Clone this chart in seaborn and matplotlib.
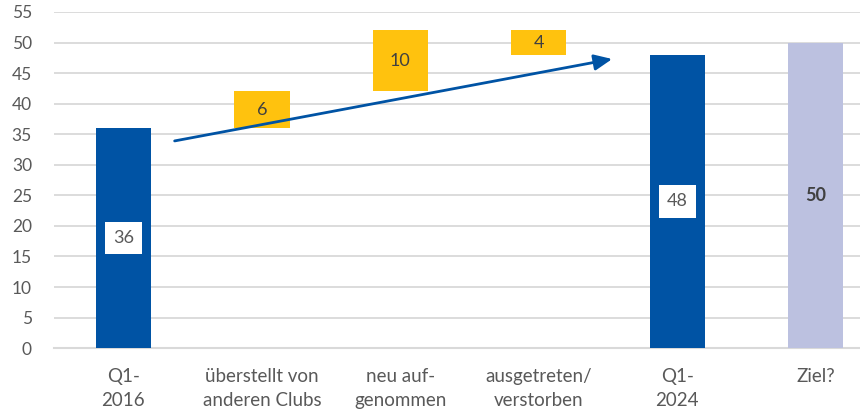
import matplotlib
matplotlib.use("Agg")
import matplotlib.pyplot as plt
import numpy as np
import pandas as pd
import seaborn as sns

# categories and values of the waterfall
categories = ["Q1-\n2016", "überstellt von\nanderen Clubs", "neu auf-\ngenommen",
              "ausgetreten/\nverstorben", "Q1-\n2024", "Ziel?"]
bar_bottoms = [0, 36, 42, 48, 0, 0]
bar_heights = [36, 6, 10, 4, 48, 50]
bar_labels = ["36", "6", "10", "4", "48", "50"]
kinds = ["total", "delta", "delta", "delta", "total", "goal"]

# trend arrow (start / end in data units)
arrow_x = [0.37, 3.53]
arrow_y = [33.9, 47.3]

BLUE = "#0053A4"
GOLD = "#FFC20E"
LAVENDER = "#BCC1E0"
GRID = "#D9D9D9"
TEXT = "#595959"
COLORS = {"total": BLUE, "delta": GOLD, "goal": LAVENDER}

sns.set_theme(style="white")
plt.rcParams["font.family"] = ["Lato", "DejaVu Sans"]

df = pd.DataFrame({"cat": categories, "bottom": bar_bottoms,
                   "height": bar_heights, "kind": kinds})

fig = plt.figure(figsize=(8.6, 4.12), dpi=100)
ax = fig.add_axes([0.063, 0.155, 0.937, 0.816])

# one ax.bar call (no hue) so the bottom array lines up with the categories
sns.barplot(data=df, x="cat", y="height", color=BLUE,
            bottom=df["bottom"].values, width=0.4, saturation=1,
            ax=ax, zorder=3, linewidth=0)
for patch, kind in zip(ax.patches, kinds):
    patch.set_facecolor(COLORS[kind])

ax.set_ylim(0, 55)
ax.set_xlim(-0.5, 5.32)
ax.set_yticks(np.arange(0, 56, 5))
ax.yaxis.grid(True, color=GRID, linewidth=1.3, zorder=0)
ax.set_axisbelow(True)
for side in ("top", "right", "left"):
    ax.spines[side].set_visible(False)
ax.spines["bottom"].set_color(GRID)
ax.spines["bottom"].set_linewidth(1.5)
ax.set_xlabel("")
ax.set_ylabel("")
ax.tick_params(axis="y", length=0, colors=TEXT, labelsize=12.5, pad=16)
ax.tick_params(axis="x", length=0, colors=TEXT, labelsize=13.5, pad=14)
for lbl in ax.get_xticklabels():
    lbl.set_linespacing(1.55)

for i, row in df.iterrows():
    mid = row["bottom"] + row["height"] / 2
    if row["kind"] == "total":
        ax.text(i, mid, bar_labels[i], ha="center", va="center", fontsize=13,
                color=TEXT, zorder=5,
                bbox=dict(boxstyle="square,pad=0.45", fc="white", ec="none"))
    elif row["kind"] == "goal":
        ax.text(i, mid, bar_labels[i], ha="center", va="center", fontsize=13,
                color="#404040", fontweight="bold", zorder=5)
    else:
        ax.text(i, mid, bar_labels[i], ha="center", va="center", fontsize=13,
                color="#404040", zorder=5)

ax.annotate("", xy=(arrow_x[1], arrow_y[1]), xytext=(arrow_x[0], arrow_y[0]),
            arrowprops=dict(arrowstyle="-|>,head_length=0.9,head_width=0.4",
                            color=BLUE, lw=2, shrinkA=0, shrinkB=0),
            zorder=6)

fig.savefig("out.png", dpi=100)
